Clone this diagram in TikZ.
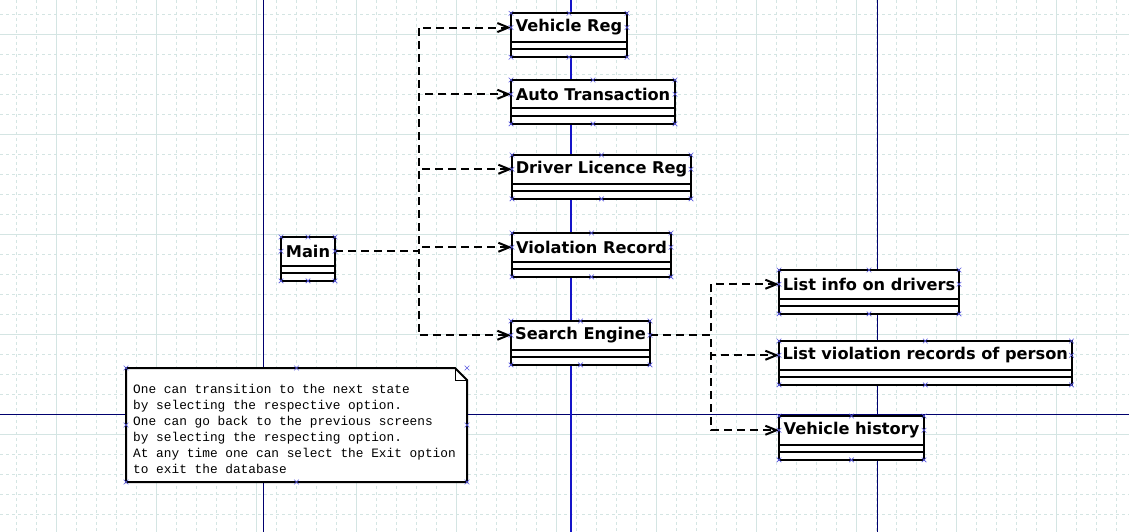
\documentclass[tikz,border=0pt]{standalone}
\usepackage{%
	fontspec,%
	tikz%
}
\setmainfont{DejaVu Sans}
\newfontfamily\notefont{Liberation Mono}
\usetikzlibrary{%
	arrows.meta,%
	calc,%
	positioning,%
	shapes.misc% wg. cross out
}
\definecolor{gridcol}{RGB}{212,229,227}
\definecolor{lanecol}{RGB}{0,0,110}
\definecolor{lifecol}{RGB}{20,20,200}
\definecolor{handlecol}{RGB}{90,90,225}

\begin{document}
\begin{tikzpicture}
[x=1pt, y=-1pt, >={Straight Barb[length=11pt,width=9pt]},
minorgrid/.style={draw=gridcol, line width=0.8pt, dash pattern=on 3pt off 3pt},
majorgrid/.style={draw=gridcol, line width=1pt},
lane/.style={draw=lanecol, line width=1pt},
classbox/.style={rectangle, draw=black, fill=white, line width=2pt, anchor=north west, inner sep=0pt, outer sep=0pt, minimum height=28.5pt, font=\fontsize{16.2}{19}\selectfont\bfseries},
dep/.style={->, line width=2pt, dash pattern=on 8pt off 5pt},
handle/.style={cross out, draw=handlecol, line width=0.6pt, minimum size=4pt, inner sep=0pt},
notetext/.style={anchor=north west, inner sep=0pt, align=left, font=\notefont\fontsize{12.8}{16}\selectfont}]

\useasboundingbox (0,0) rectangle (1129,532);
\fill[white] (0,0) rectangle (1129,532);

% grid
\foreach \x in {16.5,36.5,...,1129}
	\draw[minorgrid] (\x,0) -- (\x,532);
\foreach \y in {14.5,34.5,...,532}
	\draw[minorgrid] (0,\y) -- (1129,\y);
\foreach \x in {56.5,156.5,...,1129}
	\draw[majorgrid] (\x,0) -- (\x,532);
\foreach \y in {34.5,134.5,...,532}
	\draw[majorgrid] (0,\y) -- (1129,\y);

% lanes
\draw[lane] (263.5,0) -- (263.5,532);
\draw[lane] (877,0) -- (877,532);
\draw[lane] (0,414.5) -- (1129,414.5);
\draw[draw=lifecol, line width=1.2pt] (571,0) -- (571,532);

% classes
\node[classbox, minimum width=54pt] (main) at (281,237) {Main};
\node[classbox, minimum width=116pt] (vreg) at (511,13.3) {Vehicle Reg};
\node[classbox, minimum width=164pt] (auto) at (511,80) {Auto Transaction};
\node[classbox, minimum width=179pt] (dlic) at (512,155) {Driver Licence Reg};
\node[classbox, minimum width=159pt] (viol) at (512,233) {Violation Record};
\node[classbox, minimum width=139pt] (search) at (511,321) {Search Engine};
\node[classbox, minimum width=180pt] (drv) at (779,270) {List info on drivers};
\node[classbox, minimum width=292.5pt] (vrec) at (779,341) {List violation records of person};
\node[classbox, minimum width=145pt] (vhist) at (779,416) {Vehicle history};

\foreach \c in {main,vreg,auto,dlic,viol,search,drv,vrec,vhist} {
	\draw[line width=2pt, fill=white] (\c.south west) rectangle ([yshift=-15.4pt]\c.south east);
	\draw[line width=2pt] ([yshift=-7.7pt]\c.south west) -- ([yshift=-7.7pt]\c.south east);
}

% dependencies
\coordinate (ltrunk) at (418.5,0);
\coordinate (rtrunk) at (711,0);
\foreach \t in {vreg,auto,dlic,viol,search}
	\draw[dep] (main.east) -- (main.east -| ltrunk) |- (\t.west);
\foreach \t in {drv,vrec,vhist}
	\draw[dep] (search.east) -- (search.east -| rtrunk) |- (\t.west);

% note
\coordinate (notenw) at (126,368);
\coordinate (notese) at (467,482);
\draw[line width=2pt, fill=white] (notenw) -- ($(notenw -| notese)+(-12,0)$) -- ($(notenw -| notese)+(0,12)$) -- (notese) -- (notese -| notenw) -- cycle;
\draw[line width=1pt] ($(notenw -| notese)+(-12,0)$) |- ($(notenw -| notese)+(0,12)$);
\node[notetext] (note) at ($(notenw)+(7,16)$) {One can transition to the next state\\by selecting the respective option.\\One can go back to the previous screens\\by selecting the respecting option.\\At any time one can select the Exit option\\to exit the database};

% handles
\foreach \c in {main,vreg,auto,dlic,viol,search,drv,vrec,vhist} {
	\foreach \a in {north west,north,north east,west,east}
		\node[handle] at (\c.\a) {};
	\foreach \a in {south west,south,south east}
		\node[handle] at ([yshift=-15.4pt]\c.\a) {};
}
\foreach \p in {(126,368),(296.5,368),(467,368),(126,425),(467,425),(126,482),(296.5,482),(467,482)}
	\node[handle] at \p {};
\end{tikzpicture}
\end{document}
